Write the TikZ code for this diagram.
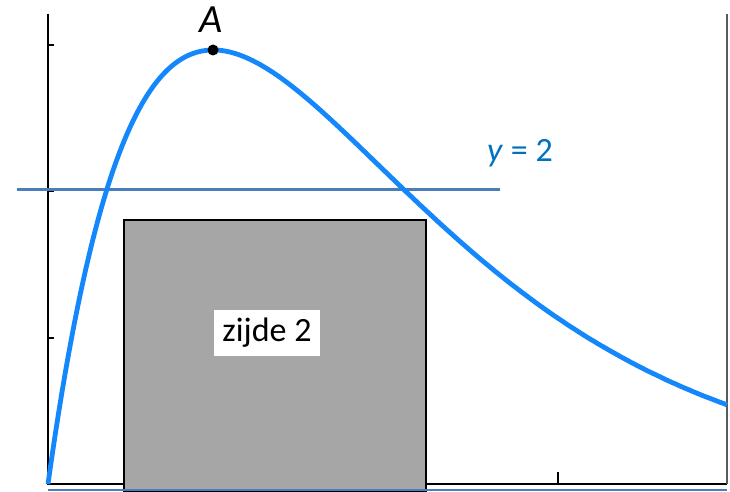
\documentclass[tikz,border=0pt]{standalone}
\usepackage{fontspec}
\setmainfont{Carlito}
\definecolor{curveblue}{RGB}{20,136,250}
\definecolor{lineblue}{RGB}{74,126,187}
\definecolor{labelblue}{RGB}{0,112,192}
\definecolor{rectgray}{RGB}{166,166,166}
\begin{document}
\begin{tikzpicture}[x=1pt,y=-1pt,
  axisline/.style={black,line width=1.1pt},
  tickline/.style={black,line width=1.1pt},
  lbl/.style={inner sep=0pt,font=\fontsize{34}{40}\selectfont}]
\useasboundingbox (0,0) rectangle (730,492);
% frame lines
\coordinate (o) at (48,484);
\coordinate (ytop) at (48,14);
\coordinate (xend) at (727,484);
\coordinate (rtop) at (727,14);
\draw[axisline] (ytop) -- (o) -- (xend);
\draw[gray!70!black,line width=1.5pt] (rtop) -- (xend);
% ticks
\foreach \yy in {45,191,338} \draw[tickline] (48,\yy) -- (54,\yy);
\draw[tickline] (558,484) -- (558,472);
% rectangle
\node[draw=black,line width=2pt,fill=rectgray,minimum width=302pt,minimum height=271pt,inner sep=0pt,anchor=north west] (sq) at (123,219) {};
\node[fill=white,minimum width=106pt,minimum height=46pt,inner sep=0pt,font=\fontsize{34}{40}\selectfont] (zl) at (267,333) {zijde 2};
% bottom blue line
\coordinate (bl) at (48,490);
\coordinate (br) at (727,490);
\draw[lineblue,line width=2.5pt] (bl) -- (br);
% y=2 line
\coordinate (hl) at (17,189);
\coordinate (hr) at (500,189);
\draw[lineblue,line width=3pt] (hl) -- (hr);
\node[lbl,text=labelblue] (yl) at (520,153) {\textit{y} = 2};
% curve
\draw[curveblue,line width=4.8pt] plot[domain=0:679,samples=200,smooth] ({48+\x},{484-434*(\x/165)*exp(1-\x/165)});
% point A
\fill[black] (213,50) circle (5.5pt) node (pa) {};
\node[inner sep=0pt,font=\fontsize{40}{44}\selectfont\itshape] (al) at (211,20) {A};
\end{tikzpicture}
\end{document}
